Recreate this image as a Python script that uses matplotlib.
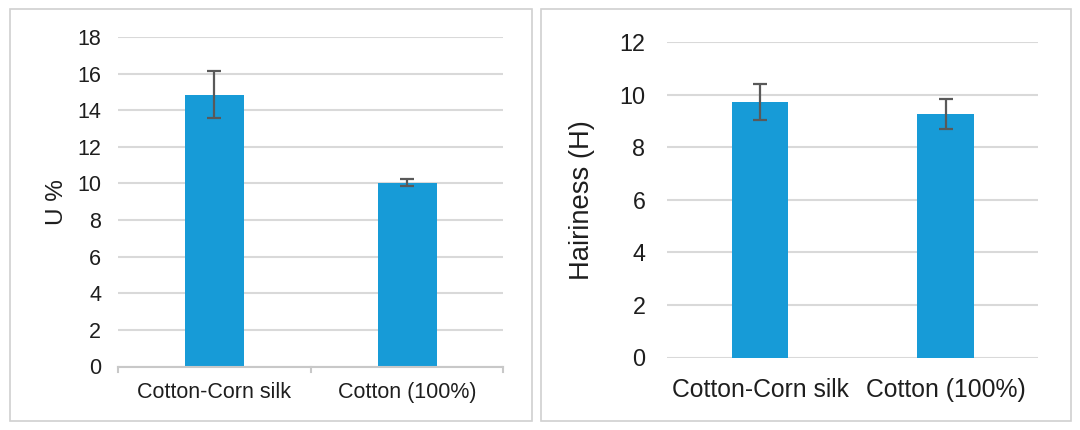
import matplotlib
matplotlib.use("Agg")
import matplotlib.pyplot as plt
from matplotlib.patches import Rectangle

plt.rcParams['font.family'] = ['Liberation Sans', 'DejaVu Sans']

categories = ["Cotton-Corn silk", "Cotton (100%)"]
u_values = [14.85, 10.05]
u_errors = [1.3, 0.18]
h_values = [9.72, 9.27]
h_errors = [0.69, 0.57]

BAR = "#179BD7"
GRID = "#D9D9D9"
ERR = "#595959"
TXT = "#1E1E1E"

fig = plt.figure(figsize=(10.8, 4.3), dpi=100)
W, H = 1080, 430

def box(x0, y0, x1, y1):
    fig.patches.append(Rectangle((x0 / W, 1 - y1 / H), (x1 - x0) / W, (y1 - y0) / H,
                                 transform=fig.transFigure, fill=False,
                                 edgecolor="#D0D0D0", linewidth=1.2))

box(10, 9, 532, 421)
box(541, 9, 1071, 421)

def make_ax(x0, x1, y_top, y_bot):
    return fig.add_axes([x0 / W, 1 - y_bot / H, (x1 - x0) / W, (y_bot - y_top) / H])

x = list(range(len(categories)))

# Left panel
ax1 = make_ax(118, 503.4, 37, 366.5)
ax1.bar(x, u_values, width=0.306, color=BAR, zorder=2)
ax1.errorbar(x, u_values, yerr=u_errors, fmt='none', ecolor=ERR, elinewidth=1.6,
             capsize=5, capthick=1.6, zorder=3)
ax1.set_ylim(0, 18)
ax1.set_xlim(-0.5, 1.5)
ax1.set_yticks(range(0, 19, 2))
ax1.set_ylabel("U %", fontsize=17.5, color=TXT, va='center')
ax1.yaxis.set_label_coords((57 - 118) / (503.4 - 118), 0.5)

# Right panel
ax2 = make_ax(667.25, 1038.3, 42.3, 357.5)
ax2.bar(x, h_values, width=0.305, color=BAR, zorder=2)
ax2.errorbar(x, h_values, yerr=h_errors, fmt='none', ecolor=ERR, elinewidth=1.6,
             capsize=5, capthick=1.6, zorder=3)
ax2.set_ylim(0, 12)
ax2.set_xlim(-0.5, 1.5)
ax2.set_yticks(range(0, 13, 2))
ax2.set_ylabel("Hairiness (H)", fontsize=19.7, color=TXT, va='center')
ax2.yaxis.set_label_coords((582 - 667.25) / (1038.3 - 667.25), 0.5)

for ax, fs_y, fs_x, pad_y, pad_x in ((ax1, 15.5, 15.5, 12.2, 11.5),
                                      (ax2, 16.8, 17.8, 15.8, 14.5)):
    ax.set_xticks(x)
    ax.set_xticklabels(categories, fontsize=fs_x, color=TXT)
    ax.tick_params(axis='y', labelsize=fs_y, labelcolor=TXT, length=0, pad=pad_y)
    ax.tick_params(axis='x', length=0, pad=pad_x)
    ax.grid(axis='y', color=GRID, linewidth=1.5, zorder=0)
    ax.set_axisbelow(True)
    for s in ax.spines.values():
        s.set_visible(False)

# left bottom axis line with category boundary ticks
ax1.spines['bottom'].set_visible(True)
ax1.spines['bottom'].set_color("#C8C8C8")
ax1.spines['bottom'].set_linewidth(1.5)
for xb in (-0.5, 0.5, 1.5):
    ax1.plot([xb, xb], [0, -0.3], color="#C8C8C8", linewidth=1.5, clip_on=False)

fig.savefig("out.png", dpi=100, facecolor="white")
